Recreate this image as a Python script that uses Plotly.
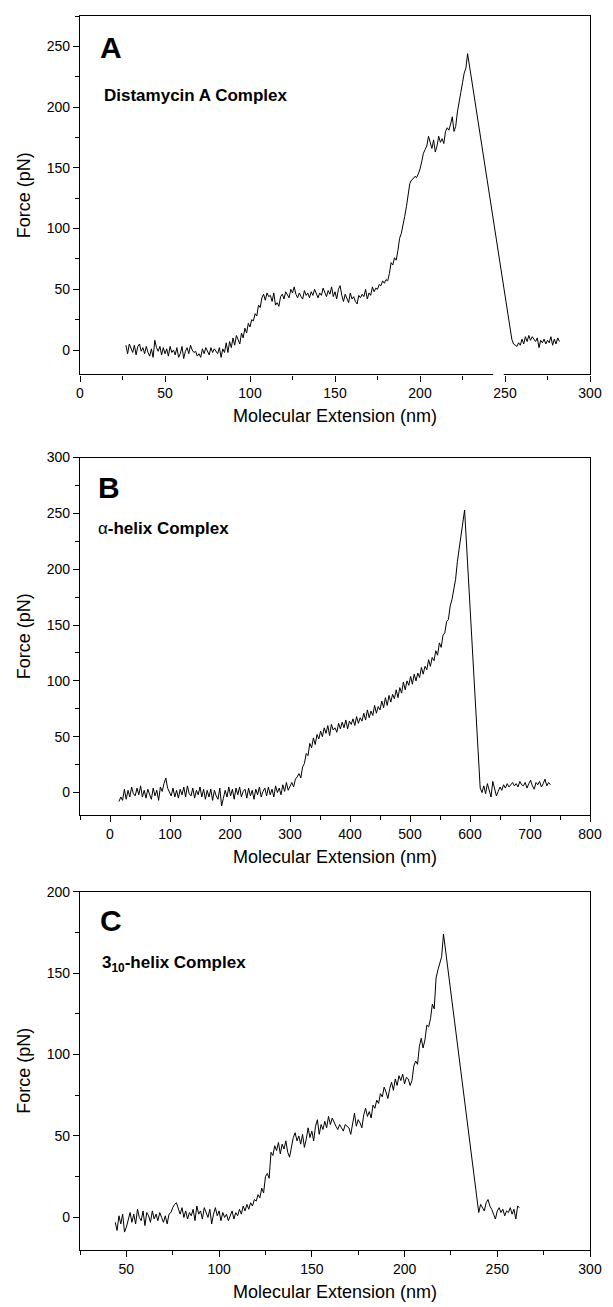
import plotly.graph_objects as go

# ---------------- Panel A : Distamycin A Complex ----------------
a_ext = [
    27, 28, 29, 30, 31, 32, 33, 34, 35, 36,
    37, 38, 39, 40, 41, 42, 43, 44, 45, 46,
    47, 48, 49, 50, 51, 52, 53, 54, 55, 56,
    57, 58, 59, 60, 61, 62, 63, 64, 65, 66,
    67, 68, 69, 70, 71, 72, 73, 74, 75, 76,
    77, 78, 79, 80, 81, 82, 83, 84, 85, 86,
    87, 88, 89, 90, 91, 92, 93, 94, 95, 96,
    97, 98, 99, 100, 101, 102, 103, 104, 105, 106,
    107, 108, 109, 110, 111, 112, 113, 114, 115, 116,
    117, 118, 119, 120, 121, 122, 123, 124, 125, 126,
    127, 128, 129, 130, 131, 132, 133, 134, 135, 136,
    137, 138, 139, 140, 141, 142, 143, 144, 145, 146,
    147, 148, 149, 150, 151, 152, 153, 154, 155, 156,
    157, 158, 159, 160, 161, 162, 163, 164, 165, 166,
    167, 168, 169, 170, 171, 172, 173, 174, 175, 176,
    177, 178, 179, 180, 181, 182, 183, 184, 185, 186,
    187, 188, 189, 190, 191, 192, 193, 194, 195, 196,
    197, 198, 199, 200, 201, 202, 203, 204, 205, 206,
    207, 208, 209, 210, 211, 212, 213, 214, 215, 216,
    217, 218, 219, 220, 221, 222, 223, 224, 225, 226, 227, 228,
    254, 255, 256, 257, 258, 259, 260, 261, 262, 263,
    264, 265, 266, 267, 268, 269, 270, 271, 272, 273,
    274, 275, 276, 277, 278, 279, 280, 281, 282,
]
a_force = [
    4, -3, 5, 1, -2, 4, -4, 3, 5, -1,
    2, -3, 3, -2, -5, 1, -6, 8, 2, -1,
    3, -4, 2, -3, 1, -5, 3, -2, 0, -4,
    2, -6, -3, 3, -7, -1, 2, -3, 4, 0,
    -2, -1, -5, -3, -6, 1, -3, 2, -1, -4,
    2, -2, 1, -1, -3, 2, -6, 1, -2, 6,
    -2, 7, 2, 10, 4, 12, 8, 5, 14, 10,
    18, 14, 22, 19, 25, 24, 30, 28, 37, 35,
    43, 46, 41, 47, 44, 45, 40, 47, 37, 39,
    36, 44, 46, 42, 48, 45, 43, 50, 47, 52,
    46, 43, 47, 44, 42, 49, 45, 47, 43, 48,
    45, 50, 46, 43, 47, 45, 51, 47, 44, 49,
    46, 52, 44, 48, 42, 50, 53, 45, 40, 46,
    43, 39, 47, 42, 44, 40, 38, 45, 43, 46,
    44, 50, 42, 47, 45, 52, 48, 51, 50, 54,
    53, 57, 55, 58, 57, 63, 72, 70, 76, 74,
    82, 92, 96, 105, 110, 118, 128, 137, 140, 141,
    143, 142, 145, 149, 155, 162, 165, 168, 176, 170,
    166, 173, 163, 168, 176, 171, 174, 170, 180, 183,
    181, 186, 192, 180, 184, 196, 206, 212, 220, 228, 232, 244,
    9, 5, 4, 3, 6, 4, 9, 5, 11, 7,
    12, 8, 11, 9, 7, 10, 2, 8, 6, 9,
    5, 8, 6, 11, 4, 9, 5, 10, 7,
]

# ---------------- Panel B : alpha-helix Complex ----------------
b_ext = [
    15, 18, 21, 24, 27, 30, 33, 36, 39, 42,
    45, 48, 51, 54, 57, 60, 63, 66, 69, 72,
    75, 78, 81, 84, 87, 90, 93, 96, 99, 102,
    105, 108, 111, 114, 117, 120, 123, 126, 129, 132,
    135, 138, 141, 144, 147, 150, 153, 156, 159, 162,
    165, 168, 171, 174, 177, 180, 183, 186, 189, 192,
    195, 198, 201, 204, 207, 210, 213, 216, 219, 222,
    225, 228, 231, 234, 237, 240, 243, 246, 249, 252,
    255, 258, 261, 264, 267, 270, 273, 276, 279, 282,
    285, 288, 291, 294, 297, 300, 303, 306, 309, 312,
    315, 318, 321, 324, 327, 330, 333, 336, 339, 342,
    345, 348, 351, 354, 357, 360, 363, 366, 369, 372,
    375, 378, 381, 384, 387, 390, 393, 396, 399, 402,
    405, 408, 411, 414, 417, 420, 423, 426, 429, 432,
    435, 438, 441, 444, 447, 450, 453, 456, 459, 462,
    465, 468, 471, 474, 477, 480, 483, 486, 489, 492,
    495, 498, 501, 504, 507, 510, 513, 516, 519, 522,
    525, 528, 531, 534, 537, 540, 543, 546, 549, 552,
    555, 558, 561, 564, 567, 570, 573, 576, 579, 582,
    585, 588, 591,
    617, 620, 623, 626, 629, 632, 635, 638, 641, 644,
    647, 650, 653, 656, 659, 662, 665, 668, 671, 674,
    677, 680, 683, 686, 689, 692, 695, 698, 701, 704,
    707, 710, 713, 716, 719, 722, 725, 728, 731, 734,
]
b_force = [
    -8, -4, -7, 3, -6, 2, -4, 5, -1, -3,
    4, -2, 6, -4, 2, -5, 3, -1, -6, 4,
    -3, 2, -7, 5, 1, 8, 13, 4, 1, -3,
    4, -4, 2, -5, 3, -2, 5, -4, 6, -1,
    -3, 4, -5, 2, -2, 5, -4, 3, -6, 2,
    -4, 3, -7, 2, -3, -6, 4, -12, -5, 2,
    -4, 5, -3, 3, -6, 4, -2, 5, -4, 1,
    3, -5, 4, -3, 2, -6, 3, -2, 5, -4,
    1, 4, -3, 5, -2, 3, -4, 6, 0, 4,
    -2, 7, 1, 9, 2, 6, 9, 5, 12, 14,
    17, 13, 23, 26, 35, 33, 44, 40, 49, 43,
    52, 48, 55, 50, 58, 53, 60, 51, 61, 56,
    58, 54, 62, 57, 63, 58, 65, 57, 64, 61,
    66, 60, 68, 62, 67, 64, 71, 65, 74, 67,
    73, 69, 78, 71, 77, 74, 82, 76, 85, 78,
    87, 81, 88, 84, 92, 85, 94, 89, 99, 92,
    100, 96, 104, 97, 106, 100, 107, 103, 112, 106,
    113, 110, 119, 113, 121, 118, 127, 123, 134, 130,
    141, 143, 153, 155, 167, 173, 184, 191, 207, 219,
    232, 240, 253,
    4, 0, 6, -1, 8, 2, -4, 10, 3, -3,
    1, 5, 2, 7, 4, 8, 5, 7, 9, 6,
    8, 5, 10, 7, 6, 9, 4, 8, 11, 6,
    3, 9, 7, 10, 5, 8, 12, 6, 9, 7,
]

# ---------------- Panel C : 3_10-helix Complex ----------------
c_ext = [
    44, 45, 46, 47, 48, 49, 50, 51, 52, 53,
    54, 55, 56, 57, 58, 59, 60, 61, 62, 63,
    64, 65, 66, 67, 68, 69, 70, 71, 72, 73,
    74, 75, 76, 77, 78, 79, 80, 81, 82, 83,
    84, 85, 86, 87, 88, 89, 90, 91, 92, 93,
    94, 95, 96, 97, 98, 99, 100, 101, 102, 103,
    104, 105, 106, 107, 108, 109, 110, 111, 112, 113,
    114, 115, 116, 117, 118, 119, 120, 121, 122, 123,
    124, 125, 126, 127, 128, 129, 130, 131, 132, 133,
    134, 135, 136, 137, 138, 139, 140, 141, 142, 143,
    144, 145, 146, 147, 148, 149, 150, 151, 152, 153,
    154, 155, 156, 157, 158, 159, 160, 161, 162, 163,
    164, 165, 166, 167, 168, 169, 170, 171, 172, 173,
    174, 175, 176, 177, 178, 179, 180, 181, 182, 183,
    184, 185, 186, 187, 188, 189, 190, 191, 192, 193,
    194, 195, 196, 197, 198, 199, 200, 201, 202, 203,
    204, 205, 206, 207, 208, 209, 210, 211, 212, 213,
    214, 215, 216, 217, 218, 219, 220, 221,
    240, 241, 242, 243, 244, 245, 246, 247, 248, 249,
    250, 251, 252, 253, 254, 255, 256, 257, 258, 259,
    260, 261, 262,
]
c_force = [
    -3, -8, 1, -4, 2, -9, -6, -2, 3, -3,
    2, -4, 5, 0, -2, 4, -5, 3, 1, -3,
    4, -1, 2, -2, 3, 0, -3, 1, -4, 2,
    3, 6, 8, 9, 5, 2, 6, 0, 4, -1,
    3, 1, 5, -2, 7, 2, 4, -1, 6, 3,
    0, 5, -4, 2, 6, 1, 4, -2, 3, 0,
    2, -2, 1, 4, -1, 3, 1, 5, 2, 7,
    4, 8, 5, 9, 7, 11, 10, 14, 12, 18,
    15, 25, 27, 24, 40, 38, 44, 41, 46, 39,
    45, 42, 47, 40, 37, 44, 49, 52, 47, 50,
    45, 51, 43, 48, 55, 49, 53, 47, 56, 60,
    51, 57, 54, 59, 55, 62, 57, 61, 58, 56,
    54, 57, 55, 53, 57, 56, 55, 51, 58, 64,
    56, 60, 58, 55, 63, 67, 62, 65, 61, 69,
    67, 72, 70, 76, 74, 80, 77, 73, 79, 83,
    78, 85, 81, 87, 84, 88, 82, 86, 85, 81,
    84, 93, 96, 94, 105, 110, 104, 109, 118, 117,
    122, 131, 128, 147, 152, 157, 160, 174,
    3, 8, 6, 4, 9, 11, 7, 5, 2, -1,
    4, 6, 3, 5, 1, 4, 3, 6, 2, 5,
    -1, 7, 6,
]

panel_letters = ["A", "B", "C"]
panel_labels = ["<b>Distamycin A Complex</b>", "α<b>-helix Complex</b>",
                "<b>3<sub>10</sub>-helix Complex</b>"]
x_title = "Molecular Extension (nm)"
y_title = "Force (pN)"

FONT = "Liberation Sans, Arial, sans-serif"

fig = go.Figure()
for i, (xs, ys) in enumerate([(a_ext, a_force), (b_ext, b_force), (c_ext, c_force)]):
    suffix = "" if i == 0 else str(i + 1)
    fig.add_trace(go.Scatter(x=xs, y=ys, mode="lines",
                             line=dict(color="black", width=1),
                             xaxis="x" + suffix, yaxis="y" + suffix,
                             showlegend=False, hoverinfo="skip"))

ydomains = [[0.7096, 1.0], [0.3526, 0.6422], [0.0, 0.2904]]
xranges = [[0, 300], [-50, 800], [25, 300]]
xdticks = [50, 100, 50]
xminor = [25, 50, 25]
yranges = [[-20, 275], [-20, 300], [-20, 200]]

axis_common = dict(showline=True, linecolor="black", linewidth=1.3, mirror=True,
                   ticks="outside", ticklen=6, tickwidth=1.1, tickcolor="black",
                   showgrid=False, zeroline=False,
                   tickfont=dict(family=FONT, size=14, color="black"))

layout = dict(width=613, height=1307, plot_bgcolor="white", paper_bgcolor="white",
              margin=dict(l=80, r=23, t=8, b=56), showlegend=False)

for i in range(3):
    suffix = "" if i == 0 else str(i + 1)
    anchor_y = "y" + suffix
    anchor_x = "x" + suffix
    layout["xaxis" + suffix] = dict(
        axis_common, domain=[0, 1], anchor=anchor_y, range=xranges[i],
        tick0=0, dtick=xdticks[i],
        minor=dict(ticks="outside", ticklen=4, tickwidth=1.1, tickcolor="black",
                   dtick=xminor[i], tick0=0, showgrid=False),
        title=dict(text=x_title, font=dict(family=FONT, size=18, color="black"), standoff=9))
    layout["yaxis" + suffix] = dict(
        axis_common, domain=ydomains[i], anchor=anchor_x, range=yranges[i],
        tick0=0, dtick=50,
        minor=dict(ticks="outside", ticklen=4, tickwidth=1.1, tickcolor="black",
                   dtick=25, tick0=0, showgrid=False),
        title=dict(text=y_title, font=dict(family=FONT, size=18, color="black"), standoff=11))

annotations = []
letter_pos = [(0.035, 0.911), (0.031, 0.917), (0.035, 0.92)]
label_pos = [(0.043, 0.778), (0.031, 0.802), (0.039, 0.797)]
for i in range(3):
    suffix = "" if i == 0 else str(i + 1)
    annotations.append(dict(text="<b>" + panel_letters[i] + "</b>",
                            xref="x" + suffix + " domain", yref="y" + suffix + " domain",
                            x=letter_pos[i][0], y=letter_pos[i][1],
                            xanchor="left", yanchor="middle", showarrow=False,
                            font=dict(family=FONT, size=30, color="black")))
    annotations.append(dict(text=panel_labels[i],
                            xref="x" + suffix + " domain", yref="y" + suffix + " domain",
                            x=label_pos[i][0], y=label_pos[i][1],
                            xanchor="left", yanchor="middle", showarrow=False,
                            font=dict(family=FONT, size=17, color="black")))
layout["annotations"] = annotations

# axis break on panel A's x-axis (between ~243 and ~249 nm)
layout["shapes"] = [dict(type="rect", xref="x", yref="y domain", x0=243, x1=249.3,
                         y0=-0.012, y1=0.012, fillcolor="white", line=dict(width=0),
                         layer="above")]

fig.update_layout(**layout)
fig.write_html("out.html", config={"displayModeBar": False},
               post_script="document.body.style.margin='0';document.body.style.overflow='hidden';")
